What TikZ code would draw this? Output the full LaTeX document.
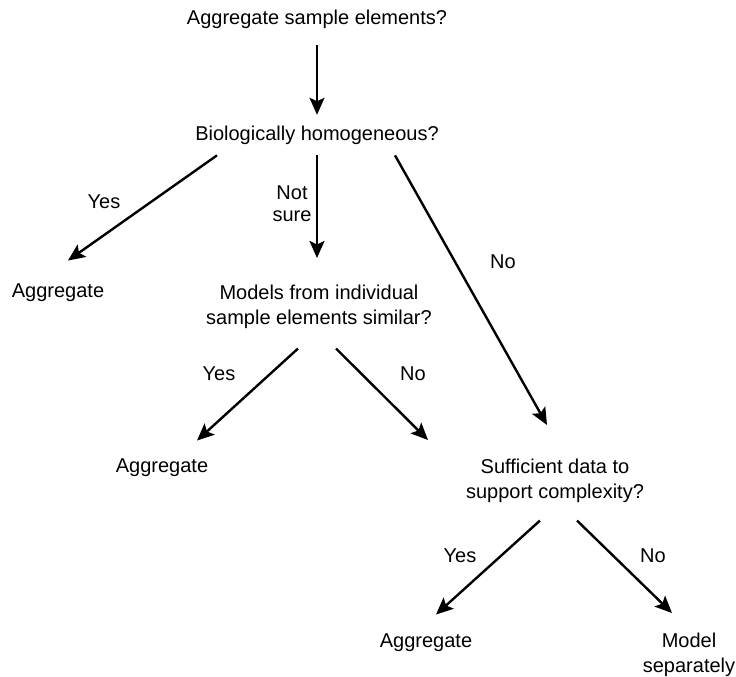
\documentclass[tikz,border=0pt]{standalone}
\usepackage{fontspec}
\setmainfont{Liberation Sans}
\usetikzlibrary{arrows.meta}
\tikzset{arr/.style = {line width=2.4pt, -{Stealth[length=17pt, width=15pt, inset=3.5pt]}}}
\tikzset{txt/.style = {inner sep=0pt, anchor=base, font=\fontsize{20}{25}\selectfont}}
\tikzset{txtm/.style = {inner sep=0pt, anchor=north, align=center, font=\fontsize{20}{25}\selectfont}}

\begin{document}
\begin{tikzpicture}[x=1pt, y=-1pt]
      \useasboundingbox (0, 0) rectangle (736, 677);
      % questions and outcomes
      \node [txt] (top) at (317, 25) {Aggregate sample elements?};
      \node [txt] (bio) at (317, 140) {Biologically homogeneous?};
      \node [txt] (agga) at (58, 297) {Aggregate};
      \node [txtm] (models) at (319, 284.5) {Models from individual\\sample elements similar?};
      \node [txt] (aggb) at (162, 472) {Aggregate};
      \node [txtm] (suff) at (555, 458.5) {Sufficient data to\\support complexity?};
      \node [txt] (aggc) at (426, 647) {Aggregate};
      \node [txtm] (sep) at (689, 632.5) {Model\\separately};
      % answers
      \node [txt] (yesa) at (104, 208) {Yes};
      \node [txtm, font=\fontsize{20}{22}\selectfont] (notsure) at (292, 185.5) {Not\\sure};
      \node [txt] (noa) at (503, 268) {No};
      \node [txt] (yesb) at (219, 380) {Yes};
      \node [txt] (nob) at (413, 380) {No};
      \node [txt] (yesc) at (460, 562) {Yes};
      \node [txt] (noc) at (653, 562) {No};
      % arrows
      \draw [arr] ([yshift=-16pt]top.south) -- ([yshift=10.5pt]bio.north);
      \draw [arr] ([xshift=-100pt, yshift=-11pt]bio.south) -- ([xshift=10pt, yshift=22.5pt]agga.north);
      \draw [arr] ([yshift=-11pt]bio.south) -- ([xshift=-2pt, yshift=26.5pt]models.north);
      \draw [arr] ([xshift=78pt, yshift=-11pt]bio.south) -- ([xshift=-8pt, yshift=33.5pt]suff.north);
      \draw [arr] ([xshift=-21pt, yshift=-20pt]models.south) -- ([xshift=35pt, yshift=17.5pt]aggb.north);
      \draw [arr] ([xshift=17pt, yshift=-20pt]models.south) -- ([xshift=-127pt, yshift=18.5pt]suff.north);
      \draw [arr] ([xshift=-15pt, yshift=-18pt]suff.south) -- ([xshift=10pt, yshift=18.5pt]aggc.north);
      \draw [arr] ([xshift=22pt, yshift=-18pt]suff.south) -- ([xshift=-17pt, yshift=19.5pt]sep.north);
    \end{tikzpicture}
\end{document}
